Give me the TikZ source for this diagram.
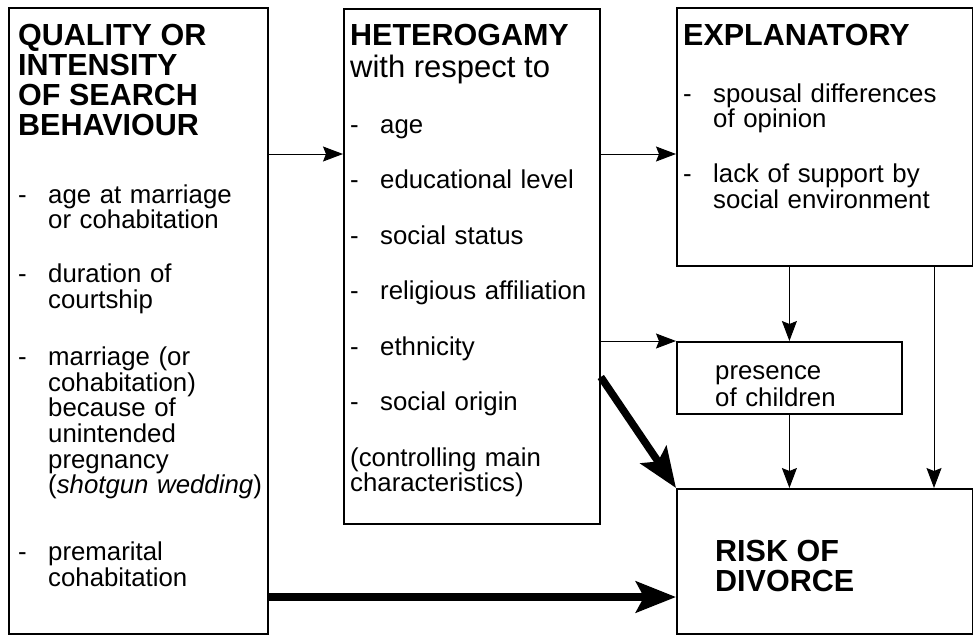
\documentclass[tikz,border=0pt]{standalone}
\usepackage{fontspec}
\setmainfont{Liberation Sans}
\usetikzlibrary{arrows.meta}

\newcommand{\ttlfont}{\fontsize{30.5}{30}\selectfont\bfseries}
\newcommand{\bodyfont}{\fontsize{25.8}{25.7}\selectfont}
\newcommand{\dashitem}{\makebox[30pt][l]{-}}
\newcommand{\contline}{\hspace*{30pt}}

\tikzset{
  box/.style={draw, line width=1.8pt, inner sep=0pt, anchor=north west},
  txt/.style={anchor=base west, inner sep=0pt, align=left, text width=280pt, font=\bodyfont},
  arr/.style={-{Stealth[length=20pt,width=15pt,inset=3pt]}, line width=1pt},
  bigarr/.style={-{Stealth[length=40pt,width=31pt,inset=8pt]}, line width=7.5pt},
}

\begin{document}
\begin{tikzpicture}[x=1pt, y=-1pt]
    \useasboundingbox (0,0) rectangle (973,635);

    % Boxes
    \node[box, minimum width=259pt, minimum height=626pt] (qual) at (8,7) {};
    \node[box, minimum width=256pt, minimum height=515pt] (heter) at (343,8) {};
    \node[box, minimum width=296pt, minimum height=258pt] (expl) at (676,7) {};
    \node[box, minimum width=225pt, minimum height=72pt] (child) at (676,341) {};
    \node[box, minimum width=296pt, minimum height=145pt] (risk) at (676,488) {};

    % Search behaviour
    \node[txt] (qualtext) at (18,45) {%
      {\ttlfont QUALITY OR\\INTENSITY\\OF SEARCH\\BEHAVIOUR\par}
      \vspace{42.3pt}
      \dashitem age at marriage\\
      \contline or cohabitation\\[28.3pt]
      \dashitem duration of\\
      \contline courtship\\[31.3pt]
      \dashitem marriage (or\\
      \contline cohabitation)\\
      \contline because of\\
      \contline unintended\\
      \contline pregnancy\\
      \contline (\textit{shotgun wedding})\\[41pt]
      \dashitem premarital\\
      \contline cohabitation};

    % Heterogamy
    \node[txt] (hetertext) at (350,45) {%
      {\ttlfont HETEROGAMY\par}
      {\fontsize{31}{32}\selectfont with respect to\par}
      \vspace{30.3pt}
      \dashitem age\\[29.8pt]
      \dashitem educational level\\[29.8pt]
      \dashitem social status\\[29.8pt]
      \dashitem religious affiliation\\[29.8pt]
      \dashitem ethnicity\\[29.8pt]
      \dashitem social origin\\[29.8pt]
      (controlling main\\
      characteristics)};

    % Explanatory
    \node[txt] (expltext) at (683,45) {%
      {\ttlfont EXPLANATORY\par}
      \vspace{31.3pt}
      \dashitem spousal differences\\
      \contline of opinion\\[29.3pt]
      \dashitem lack of support by\\
      \contline social environment};

    % Children and divorce
    \node[txt] (childtext) at (715,379) {presence\\[1.3pt]of children};
    \node[txt] (risktext) at (715,561) {\ttlfont RISK OF\\[5pt]DIVORCE};

    % Arrows
    \coordinate (row1) at (0,154);
    \coordinate (row2) at (0,377);
    \coordinate (row3) at (0,597);
    \coordinate (col1) at (934,0);
    \draw[arr] (qual.east |- row1) -- (heter.west |- row1);
    \draw[arr] (heter.east |- row1) -- (expl.west |- row1);
    \draw[arr] (heter.east |- child.north west) -- (child.north west);
    \draw[arr] (child.north |- expl.south) -- (child.north);
    \draw[arr] (child.south) -- (child.south |- risk.north);
    \draw[arr] (col1 |- expl.south) -- (col1 |- risk.north);
    \draw[bigarr] (heter.east |- row2) -- (risk.north west);
    \draw[bigarr] (qual.east |- row3) -- (risk.west |- row3);
\end{tikzpicture}
\end{document}
